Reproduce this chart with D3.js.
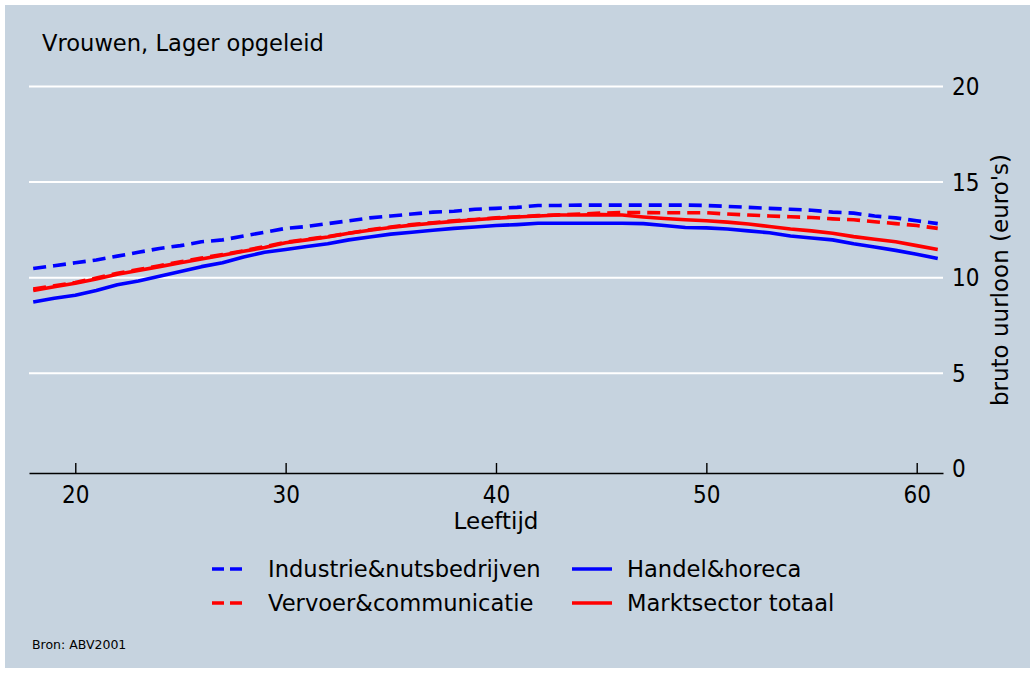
<!DOCTYPE html>
<html>
<head>
<meta charset="utf-8">
<script src="https://cdn.jsdelivr.net/npm/d3@7"></script>
<style>
  html, body { margin: 0; padding: 0; background: #ffffff; }
  svg { display: block; }
  text { font-family: "DejaVu Sans", sans-serif; fill: #000; }
</style>
</head>
<body>
<svg id="chart" width="1035" height="673"></svg>
<script>
// Hourly gross wage (euro) by age, women with lower education, by sector
const ages = d3.range(18, 62);

const industrie = [10.45, 10.6, 10.75, 10.9, 11.1, 11.3, 11.5, 11.65, 11.85, 11.95,
  12.15, 12.35, 12.55, 12.65, 12.8, 12.95, 13.1, 13.2, 13.3, 13.4,
  13.45, 13.55, 13.6, 13.65, 13.75, 13.75, 13.77, 13.77, 13.77, 13.77,
  13.77, 13.77, 13.75, 13.7, 13.65, 13.6, 13.55, 13.5, 13.4, 13.35,
  13.2, 13.1, 12.95, 12.8];

const vervoer = [9.38, 9.55, 9.72, 9.95, 10.2, 10.4, 10.6, 10.8, 11.0, 11.18,
  11.38, 11.6, 11.82, 11.98, 12.12, 12.3, 12.48, 12.62, 12.75, 12.85,
  12.95, 13.02, 13.1, 13.16, 13.22, 13.26, 13.3, 13.35, 13.38, 13.38,
  13.37, 13.37, 13.37, 13.3, 13.25, 13.2, 13.16, 13.12, 13.05, 13.0,
  12.9, 12.8, 12.7, 12.55];

const handel = [8.7, 8.9, 9.05, 9.3, 9.6, 9.8, 10.05, 10.3, 10.55, 10.75,
  11.05, 11.3, 11.45, 11.6, 11.75, 11.95, 12.1, 12.25, 12.35, 12.45,
  12.55, 12.62, 12.7, 12.75, 12.82, 12.82, 12.82, 12.82, 12.82, 12.8,
  12.7, 12.6, 12.58, 12.52, 12.42, 12.32, 12.15, 12.05, 11.95, 11.75,
  11.58, 11.4, 11.2, 10.98];

const marktsector = [9.3, 9.5, 9.68, 9.9, 10.15, 10.35, 10.55, 10.75, 10.95, 11.15,
  11.35, 11.55, 11.8, 11.95, 12.1, 12.3, 12.45, 12.6, 12.72, 12.82,
  12.92, 13.0, 13.08, 13.15, 13.2, 13.25, 13.25, 13.27, 13.25, 13.15,
  13.07, 13.0, 12.95, 12.88, 12.78, 12.65, 12.52, 12.42, 12.3, 12.12,
  11.98, 11.85, 11.65, 11.45];

const xTicks = [20, 30, 40, 50, 60];
const yTicks = [0, 5, 10, 15, 20];

const seriesNames = ["Industrie&nutsbedrijven", "Vervoer&communicatie", "Handel&horeca", "Marktsector totaal"];
const seriesValues = [industrie, vervoer, handel, marktsector];
const seriesColors = ["#0000ff", "#ff0000", "#0000ff", "#ff0000"];
const seriesDashed = [true, true, false, false];

const titleText = "Vrouwen, Lager opgeleid";
const xLabel = "Leeftijd";
const yLabel = "bruto uurloon (euro's)";
const sourceText = "Bron: ABV2001";

const svg = d3.select("#chart");
const bg = "#c6d3df";
const dash = "13,7";
const tickFont = '"DejaVu Sans Condensed", "DejaVu Sans", sans-serif';

svg.append("rect").attr("x", 5).attr("y", 5).attr("width", 1025).attr("height", 663).attr("fill", bg);

const x = d3.scaleLinear().domain([17.8, 61.25]).range([29, 943]);
const y = d3.scaleLinear().domain([0, 20]).range([468.3, 86]);

// horizontal gridlines and right-hand value labels
const yAxis = d3.axisRight(y).tickValues(yTicks).tickSizeInner(-(x.range()[1] - x.range()[0])).tickSizeOuter(0).tickPadding(9);
const gy = svg.append("g").attr("transform", `translate(${x.range()[1]},0)`).call(yAxis);
gy.select(".domain").remove();
gy.selectAll(".tick line").attr("stroke", "#ffffff").attr("stroke-width", 2)
  .filter(d => d === 0).remove();
gy.selectAll(".tick text").attr("font-size", 24).attr("dy", "0.36em").style("font-family", tickFont);

// bottom axis with ticks pointing upward
const xAxis = d3.axisBottom(x).tickValues(xTicks).tickSizeInner(-10).tickSizeOuter(0).tickPadding(13);
const gx = svg.append("g").attr("transform", `translate(0,${y(0) + 4.7})`).call(xAxis);
gx.select(".domain").attr("stroke", "#000").attr("stroke-width", 1.6);
gx.selectAll(".tick line").attr("stroke", "#000").attr("stroke-width", 1.4);
gx.selectAll(".tick text").attr("font-size", 24).style("font-family", tickFont);

// series lines
const line = d3.line().x((d, i) => x(ages[i])).y(d => y(d));
const order = [2, 3, 1, 0];
order.forEach(k => {
  svg.append("path")
    .datum(seriesValues[k])
    .attr("d", line)
    .attr("fill", "none")
    .attr("stroke", seriesColors[k])
    .attr("stroke-width", 3.6)
    .attr("stroke-linejoin", "round")
    .attr("stroke-dasharray", seriesDashed[k] ? dash : null);
});

// title, axis labels, source
svg.append("text").attr("x", 42).attr("y", 51).attr("font-size", 22.6).text(titleText);
svg.append("text").attr("x", (x(20) + x(60)) / 2).attr("y", 529).attr("text-anchor", "middle")
  .attr("font-size", 23).text(xLabel);
svg.append("text").attr("transform", "translate(1008,280) rotate(-90)").attr("text-anchor", "middle")
  .attr("font-size", 23).text(yLabel);
svg.append("text").attr("x", 32).attr("y", 649).attr("font-size", 12.5).text(sourceText);

// legend: two columns, two rows
const legendPos = [
  { lx: 212, tx: 268, cy: 569 },
  { lx: 212, tx: 268, cy: 603 },
  { lx: 572, tx: 627, cy: 569 },
  { lx: 572, tx: 627, cy: 603 }
];
seriesNames.forEach((name, k) => {
  const p = legendPos[k];
  svg.append("line")
    .attr("x1", p.lx).attr("x2", p.lx + (seriesDashed[k] ? 35 : 40))
    .attr("y1", p.cy).attr("y2", p.cy)
    .attr("stroke", seriesColors[k]).attr("stroke-width", 3.6)
    .attr("stroke-dasharray", seriesDashed[k] ? "12,6" : null);
  svg.append("text").attr("x", p.tx).attr("y", p.cy).attr("dy", "0.36em")
    .attr("font-size", 22.6).text(name);
});
</script>
</body>
</html>
